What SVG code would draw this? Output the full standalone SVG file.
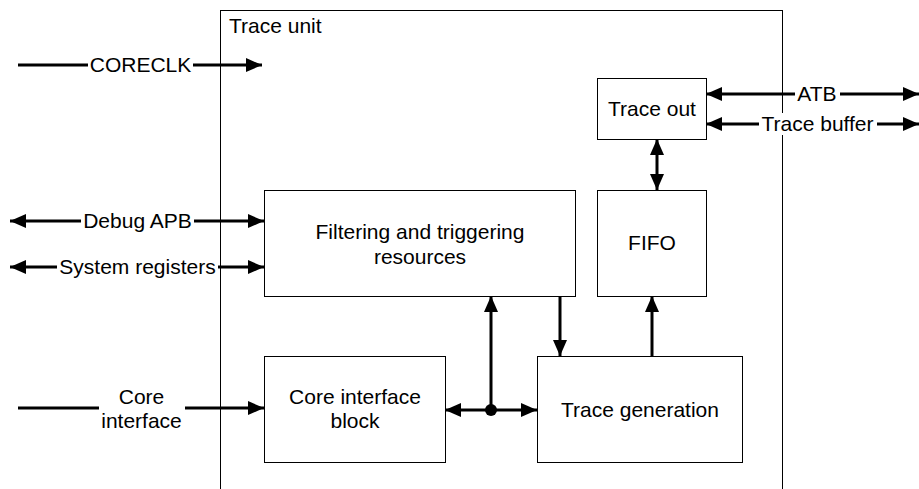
<svg xmlns="http://www.w3.org/2000/svg" width="919" height="489" viewBox="0 0 919 489">
<style>
text{font-family:"Liberation Sans",Arial,sans-serif;font-size:21px;fill:#000}
.box{fill:#fff;stroke:#000;stroke-width:1}
.c{stroke:#000;stroke-width:3;fill:none}
.lbl{text-anchor:middle}
.bg{fill:#fff}
</style>
<defs>
<marker id="ah" viewBox="0 0 16 14" refX="16" refY="7" markerWidth="16" markerHeight="14" markerUnits="userSpaceOnUse" orient="auto-start-reverse">
<path d="M0,0 L16,7 L0,14 Z" fill="#000"/>
</marker>
</defs>
<g id="trace-unit">
<rect class="box" x="220.5" y="10.5" width="562" height="490"/>
<text x="229" y="33">Trace unit</text>
</g>
<g id="connectors">
<line class="c" x1="18" y1="65" x2="262" y2="65" marker-end="url(#ah)"/>
<line class="c" x1="10" y1="221" x2="264" y2="221" marker-start="url(#ah)" marker-end="url(#ah)"/>
<line class="c" x1="10" y1="267" x2="264" y2="267" marker-start="url(#ah)" marker-end="url(#ah)"/>
<line class="c" x1="18" y1="408" x2="264" y2="408" marker-end="url(#ah)"/>
<line class="c" x1="706" y1="94" x2="919" y2="94" marker-start="url(#ah)" marker-end="url(#ah)"/>
<line class="c" x1="706" y1="124" x2="919" y2="124" marker-start="url(#ah)" marker-end="url(#ah)"/>
<line class="c" x1="657" y1="139" x2="657" y2="190" marker-start="url(#ah)" marker-end="url(#ah)"/>
<line class="c" x1="652" y1="356" x2="652" y2="296" marker-end="url(#ah)"/>
<line class="c" x1="560" y1="296" x2="560" y2="356" marker-end="url(#ah)"/>
<line class="c" x1="445" y1="410" x2="537" y2="410" marker-start="url(#ah)" marker-end="url(#ah)"/>
<line class="c" x1="491" y1="410" x2="491" y2="296" marker-end="url(#ah)"/>
<circle cx="491" cy="410" r="6" fill="#000"/>
<rect class="bg" x="88" y="54" width="105" height="22"/>
<text class="lbl" x="140.5" y="72">CORECLK</text>
<rect class="bg" x="81" y="210" width="113" height="22"/>
<text class="lbl" x="137.5" y="228">Debug APB</text>
<rect class="bg" x="57" y="256" width="161" height="22"/>
<text class="lbl" x="137.5" y="274">System registers</text>
<rect class="bg" x="99" y="385" width="86" height="48"/>
<text class="lbl" x="141.5" y="404">Core</text>
<text class="lbl" x="141.5" y="428">interface</text>
<rect class="bg" x="795" y="83" width="45" height="22"/>
<text class="lbl" x="817" y="101">ATB</text>
<rect class="bg" x="759" y="113" width="118" height="22"/>
<text class="lbl" x="817.5" y="131">Trace buffer</text>
</g>
<g id="filtering">
<rect class="box" x="264.5" y="190.5" width="311" height="106"/>
<text class="lbl" x="420" y="239">Filtering and triggering</text>
<text class="lbl" x="420" y="264">resources</text>
</g>
<g id="fifo">
<rect class="box" x="597.5" y="190.5" width="109" height="106"/>
<text class="lbl" x="652" y="250">FIFO</text>
</g>
<g id="trace-out">
<rect class="box" x="597.5" y="78.5" width="109" height="61"/>
<text class="lbl" x="652" y="116">Trace out</text>
</g>
<g id="core-interface-block">
<rect class="box" x="264.5" y="356.5" width="181" height="106"/>
<text class="lbl" x="355" y="404">Core interface</text>
<text class="lbl" x="355" y="428">block</text>
</g>
<g id="trace-generation">
<rect class="box" x="537.5" y="356.5" width="205" height="106"/>
<text class="lbl" x="640" y="417">Trace generation</text>
</g>
</svg>
